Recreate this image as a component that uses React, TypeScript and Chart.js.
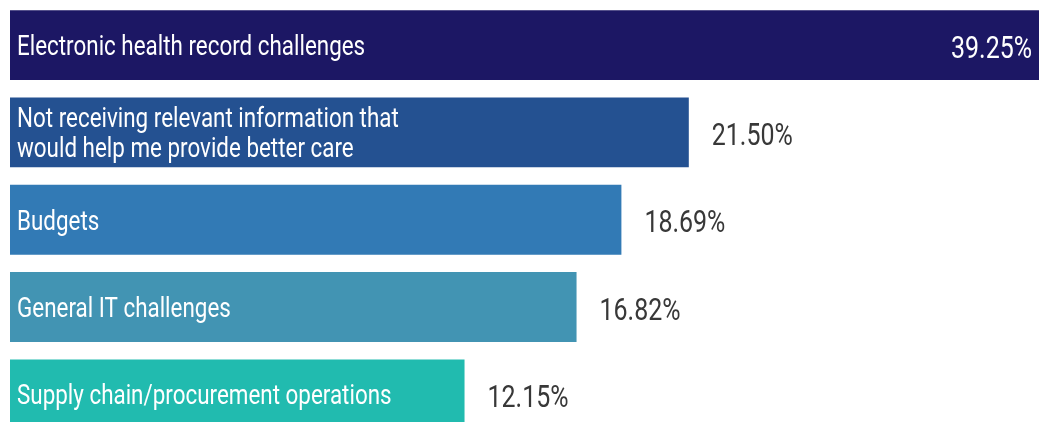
import React, { useEffect, useRef } from "react";
import { Chart, registerables } from "chart.js";

Chart.register(...registerables);

const categories: (string | string[])[] = [
  "Electronic health record challenges",
  ["Not receiving relevant information that", "would help me provide better care"],
  "Budgets",
  "General IT challenges",
  "Supply chain/procurement operations",
];
const values = [39.25, 21.5, 18.69, 16.82, 12.15];
const valueLabels = ["39.25%", "21.50%", "18.69%", "16.82%", "12.15%"];
const barColors = ["#1c1764", "#245191", "#327ab5", "#4294b3", "#21bbaf"];

const AXIS_MIN = -6.8;
const AXIS_MAX = 36.1;
const LABEL_SX = 0.8;
const VALUE_SX = 0.78;

function drawScaled(ctx: CanvasRenderingContext2D, text: string, x: number, y: number, sx: number, align: CanvasTextAlign) {
  ctx.save();
  ctx.translate(x, y);
  ctx.scale(sx, 1);
  ctx.textAlign = align;
  ctx.fillText(text, 0, 0);
  ctx.restore();
}

const labelPlugin = {
  id: "barLabels",
  afterDatasetsDraw(chart: any) {
    const ctx: CanvasRenderingContext2D = chart.ctx;
    const meta = chart.getDatasetMeta(0);
    const area = chart.chartArea;
    ctx.save();
    ctx.textBaseline = "alphabetic";
    meta.data.forEach((bar: any, i: number) => {
      const { x, y, base } = bar.getProps(["x", "y", "base"], true);
      const cat = categories[i];
      const lines = Array.isArray(cat) ? cat : [cat];
      ctx.font = "400 28px Roboto";
      ctx.fillStyle = "#ffffff";
      lines.forEach((line, j) => {
        const by = y + 10 + (j - (lines.length - 1) / 2) * 30;
        drawScaled(ctx, line, Math.max(base, area.left) + 7, by, LABEL_SX, "left");
      });
      ctx.font = "400 32px Roboto";
      const inside = x > area.right - 120;
      if (inside) {
        ctx.fillStyle = "#ffffff";
        drawScaled(ctx, valueLabels[i], Math.min(x, area.right) - 7, y + 12.5, VALUE_SX, "right");
      } else {
        ctx.fillStyle = "#383838";
        drawScaled(ctx, valueLabels[i], x + 23, y + 12.5, VALUE_SX, "left");
      }
    });
    ctx.restore();
  },
};

export default function App() {
  const ref = useRef<HTMLCanvasElement | null>(null);
  useEffect(() => {
    if (!ref.current) return;
    const chart = new Chart(ref.current, {
      type: "bar",
      data: {
        labels: categories as any,
        datasets: [
          {
            data: values,
            backgroundColor: barColors,
            borderWidth: 0,
            base: AXIS_MIN,
            barPercentage: 0.8,
            categoryPercentage: 1,
          } as any,
        ],
      },
      options: {
        indexAxis: "y",
        animation: false,
        responsive: true,
        maintainAspectRatio: false,
        layout: { padding: { left: 10, top: 1.4, right: 0, bottom: 0 } },
        plugins: { legend: { display: false }, tooltip: { enabled: false } },
        scales: {
          x: { type: "linear", min: AXIS_MIN, max: AXIS_MAX, display: false, grid: { display: false } },
          y: { type: "category", display: false, grid: { display: false } },
        },
      },
      plugins: [labelPlugin],
    });
    return () => chart.destroy();
  }, []);
  return (
    <div style={{ position: "absolute", left: 0, top: 0, width: 1039, height: 422, overflow: "hidden", background: "#ffffff" }}>
      <div style={{ position: "relative", width: 1039, height: 438 }}>
        <canvas ref={ref} />
      </div>
    </div>
  );
}
